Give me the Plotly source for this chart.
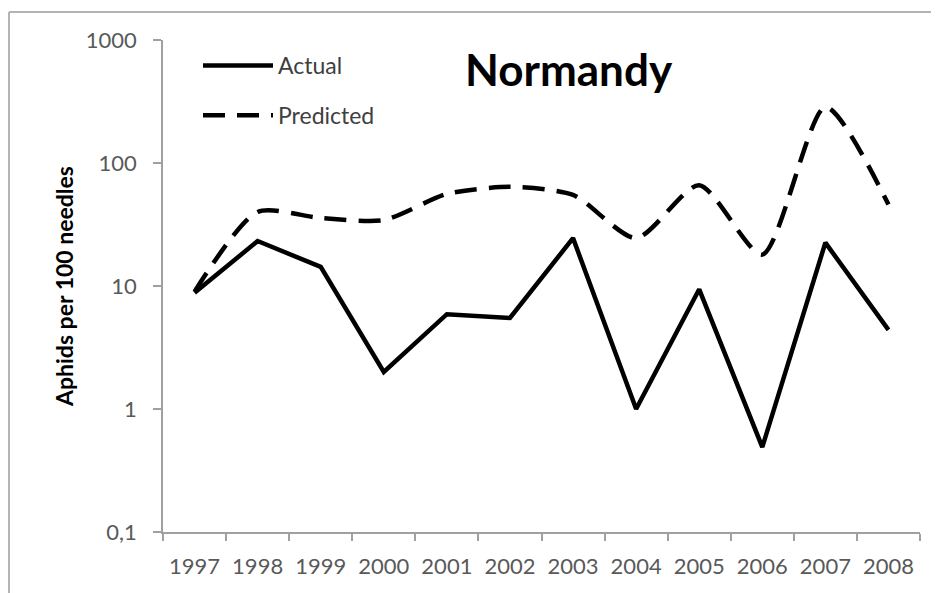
import plotly.graph_objects as go

years = ["1997", "1998", "1999", "2000", "2001", "2002", "2003", "2004", "2005", "2006", "2007", "2008"]
actual = [8.8, 23.2, 14.3, 2.0, 5.9, 5.5, 24.5, 1.0, 9.4, 0.49, 22.5, 4.4]
predicted = [9.0, 40, 35.7, 34.4, 56, 64, 55, 24.5, 66, 18, 285, 46]
ytick_vals = [0.1, 1, 10, 100, 1000]
ytick_text = ["0,1", "1", "10", "100", "1000"]

FONT = "Lato"
OFF = 8  # page body margin
W, H = 939 - OFF, 593 - OFF
L, R, T, B = 163 - OFF, 939 - 920, 40 - OFF, 593 - 532
pw, ph = W - L - R, H - T - B

def px_x(x):
    return (x - OFF - L) / pw

def px_y(y):
    return (H - B - (y - OFF)) / ph

fig = go.Figure()
fig.add_trace(go.Scatter(
    x=years, y=actual, name="Actual", mode="lines",
    line=dict(color="black", width=4.5), legendgroup="a",
))
fig.add_trace(go.Scatter(
    x=years, y=predicted, name="Predicted", mode="lines",
    line=dict(color="black", width=4.5, dash="22px,12px", shape="spline", smoothing=0.7),
    legendgroup="p",
))

grey = "#a0a0a0"
fig.update_layout(
    width=W, height=H,
    margin=dict(l=L, r=R, t=T, b=B),
    paper_bgcolor="white", plot_bgcolor="white",
    font=dict(family=FONT, color="#595959", size=22),
    showlegend=True,
    legend=dict(
        x=px_x(198), y=px_y(44), xanchor="left", yanchor="top",
        font=dict(family=FONT, size=23, color="#404040"),
        itemwidth=70, tracegroupgap=17, traceorder="grouped",
        bgcolor="rgba(0,0,0,0)",
    ),
    xaxis=dict(
        type="category", range=[-0.5, 11.5],
        showline=True, linecolor=grey, linewidth=1.5,
        ticks="outside", ticklen=7, tickcolor=grey, tickwidth=1.5,
        tickson="boundaries", showgrid=False, zeroline=False,
        tickfont=dict(family=FONT, size=22, color="#595959"),
        ticklabelstandoff=14,
    ),
    yaxis=dict(
        type="log", range=[-1, 3],
        tickvals=ytick_vals, ticktext=ytick_text,
        showline=True, linecolor=grey, linewidth=1.5,
        ticks="outside", ticklen=8, tickcolor=grey, tickwidth=1.5,
        showgrid=False, zeroline=False,
        tickfont=dict(family=FONT, size=22, color="#595959"),
        ticklabelstandoff=12,
        title=dict(text="<b>Aphids per 100 needles</b>",
                   font=dict(family=FONT, size=23, color="black"), standoff=6),
    ),
    annotations=[dict(
        text="<b>Normandy</b>", x=px_x(569), y=px_y(69), xref="paper", yref="paper",
        xanchor="center", yanchor="middle", showarrow=False,
        font=dict(family=FONT, size=44, color="black"),
    )],
    shapes=[
        dict(type="line", xref="paper", yref="paper", x0=px_x(9), x1=px_x(9),
             y0=px_y(12), y1=px_y(600), line=dict(color="#b4b4b4", width=2)),
        dict(type="line", xref="paper", yref="paper", x0=px_x(9), x1=px_x(945),
             y0=px_y(12), y1=px_y(12), line=dict(color="#b4b4b4", width=2)),
    ],
)

fig.write_html("out.html")
